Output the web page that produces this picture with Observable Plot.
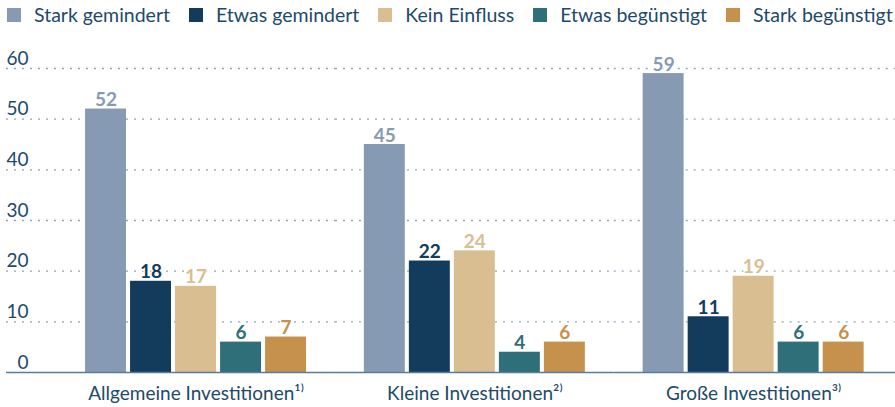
<!DOCTYPE html>
<html><head><meta charset="utf-8">
<script src="https://cdn.jsdelivr.net/npm/d3@7"></script>
<script src="https://cdn.jsdelivr.net/npm/@observablehq/plot@0.6"></script>
<style>
body{margin:0;background:#fff;font-family:Lato,sans-serif;color:#1d4a6b}
#legend{display:flex;align-items:center;height:34px;padding-left:7px;font-size:19.5px;box-sizing:border-box;padding-bottom:5px}
.item{display:flex;align-items:center;margin-right:19px;white-space:nowrap}
.sw{width:14px;height:14px;margin-right:13px;display:inline-block}
</style></head><body><div id="legend"></div><div id="chart"></div>
<script>
const groups = ["Allgemeine Investitionen","Kleine Investitionen","Große Investitionen"];
const groupNotes = ["¹⁾","²⁾","³⁾"];
const series = ["Stark gemindert","Etwas gemindert","Kein Einfluss","Etwas begünstigt","Stark begünstigt"];
const colors = ["#869bb3","#133b5c","#d8be91","#2e6f79","#c6914c"];
const starkGemindert = [52,45,59];
const etwasGemindert = [18,22,11];
const keinEinfluss = [17,24,19];
const etwasBeguenstigt = [6,4,6];
const starkBeguenstigt = [7,6,6];
const yTicks = [0,10,20,30,40,50,60];

const seriesValues = [starkGemindert, etwasGemindert, keinEinfluss, etwasBeguenstigt, starkBeguenstigt];
const data = [];
groups.forEach((g, gi) => series.forEach((s, si) => data.push({group: g, series: s, value: seriesValues[si][gi]})));

const legend = document.getElementById("legend");
series.forEach((s, i) => {
  const it = document.createElement("div"); it.className = "item";
  const sw = document.createElement("span"); sw.className = "sw"; sw.style.background = colors[i];
  it.appendChild(sw); it.appendChild(document.createTextNode(s));
  legend.appendChild(it);
});

// layout
const W = 895, H = 373, mL = 6, mR = 0;
const fxOpts = {paddingInner: 0.2073, paddingOuter: 0.198, align: 0.716, round: false};
const band = d3.scaleBand().domain(groups).range([mL, W - mR])
  .paddingInner(fxOpts.paddingInner).paddingOuter(fxOpts.paddingOuter).align(fxOpts.align);
const bw = band.bandwidth();
const labelRight = 28;

// one rule mark per facet, extended across the gaps so lines span the whole width
function spanningRules(values, opts) {
  return groups.map((g, i) => {
    const x0 = band(g), x1 = x0 + bw;
    const left = i === 0 ? mL : (band(groups[i - 1]) + bw + x0) / 2;
    const right = i === groups.length - 1 ? W - mR : (x1 + band(groups[i + 1])) / 2;
    return Plot.ruleY(values, {fx: () => g, y: d => d, insetLeft: -(x0 - left), insetRight: -(right - x1), ...opts});
  });
}

const textColor = "#1d4a6b";
const chart = Plot.plot({
  width: W, height: H,
  marginTop: 34, marginBottom: 35, marginLeft: mL, marginRight: mR,
  style: {fontFamily: "Lato, sans-serif", fontSize: "19px", color: textColor, background: "#fff", overflow: "visible"},
  fx: {domain: groups, ...fxOpts, label: null, axis: null},
  x: {domain: series, paddingInner: 0.09, paddingOuter: 0, round: false, axis: null},
  y: {domain: [0, 60], axis: null},
  color: {domain: series, range: colors},
  marks: [
    ...spanningRules(yTicks.filter(d => d > 0), {stroke: "#8ea5bc", strokeDasharray: "2,6", strokeWidth: 1.3}),
    Plot.text(yTicks, {fx: () => groups[0], y: d => d, text: d => String(d), frameAnchor: "left", textAnchor: "end", lineAnchor: "bottom", dx: labelRight - band(groups[0]), dy: -4, fill: textColor, fontSize: 19}),
    Plot.barY(data, {fx: "group", x: "series", y: "value", fill: "series"}),
    Plot.text(data, {fx: "group", x: "series", y: "value", text: d => String(d.value), fill: "series", lineAnchor: "bottom", dy: -3, fontWeight: "bold", fontSize: 19, stroke: "white", strokeWidth: 3, paintOrder: "stroke"}),
    ...spanningRules([0], {stroke: "#5a7c9c", strokeWidth: 1.6}),
    Plot.text(groups, {fx: d => d, text: d => d + groupNotes[groups.indexOf(d)], frameAnchor: "bottom", lineAnchor: "top", dy: 14, fill: textColor, fontSize: 19})
  ]
});
document.getElementById("chart").appendChild(chart);
</script>
</body></html>
